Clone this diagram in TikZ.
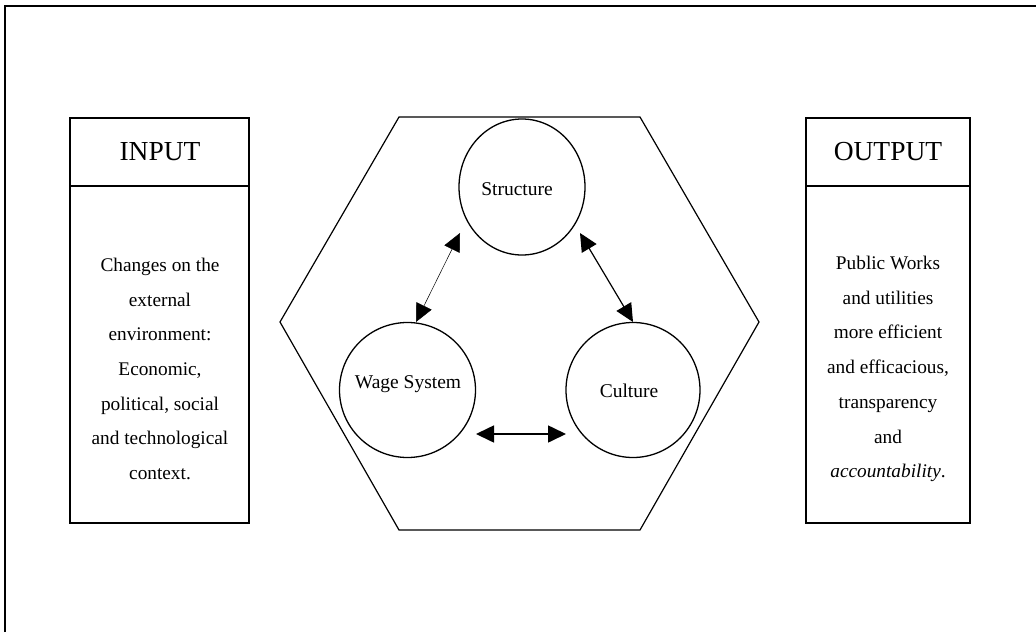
\documentclass[tikz,border=0pt]{standalone}
\usepackage{fontspec}
\setmainfont{Liberation Serif}
\usetikzlibrary{arrows.meta,shapes.geometric}
\begin{document}
\begin{tikzpicture}[x=1pt,y=-1pt,
  frame/.style={line width=1.4pt},
  boxline/.style={line width=1.3pt},
  hexline/.style={line width=1.2pt},
  circ/.style={draw,ellipse,line width=1.3pt,inner sep=0pt},
  head/.style={font=\fontsize{27.5}{30}\selectfont},
  body/.style={align=center,font=\fontsize{19.3}{34.7}\selectfont},
  lbl/.style={font=\fontsize{19.5}{22}\selectfont},
  link/.style={{Triangle[length=18pt,width=17pt]}-{Triangle[length=18pt,width=17pt]}},
]
\useasboundingbox (0,0) rectangle (1036,632);
% outer frame (top and left edges)
\draw[frame] (5,632) -- (5,6) -- (1036,6);

% INPUT box
\draw[boxline] (70,118) rectangle (249,523);
\draw[boxline] (70,186) -- (249,186);
\node[head] (inh) at (160,152) {INPUT};
\node[body] (inb) at (160,369) {Changes on the\\external\\environment:\\Economic,\\political, social\\and technological\\context.};

% OUTPUT box
\draw[boxline] (806,118) rectangle (970,523);
\draw[boxline] (806,186) -- (970,186);
\node[head] (outh) at (888,152) {OUTPUT};
\node[body] (outb) at (888,369) {Public Works\\and utilities\\more efficient\\and efficacious,\\transparency\\and\\\textit{accountability}.};

% hexagon
\draw[hexline] (399,117) -- (640,117) -- (759,322) -- (640,530) -- (399,530) -- (280,322) -- cycle;

% circles
\node[circ,minimum width=126pt,minimum height=136pt] (st) at (522,187) {};
\node[circ,minimum width=136pt,minimum height=135pt] (ws) at (407.5,390) {};
\node[circ,minimum width=134pt,minimum height=135pt] (cu) at (633,390) {};
\node[lbl] (stl) at (517,189) {Structure};
\node[lbl] (wsl) at (408,384) {Wage System};
\node[lbl] (cul) at (629,391) {Culture};

% arrow end points
\coordinate (a1) at (416,322);
\coordinate (a2) at (460,233);
\coordinate (b1) at (580,233);
\coordinate (b2) at (633,322);
\coordinate (c1) at (476,434);
\coordinate (c2) at (566,434);

\draw[link,line width=0.5pt] (a1) -- (a2);
\draw[link,line width=1.2pt] (b1) -- (b2);
\draw[link,line width=1.6pt] (c1) -- (c2);
\end{tikzpicture}
\end{document}
